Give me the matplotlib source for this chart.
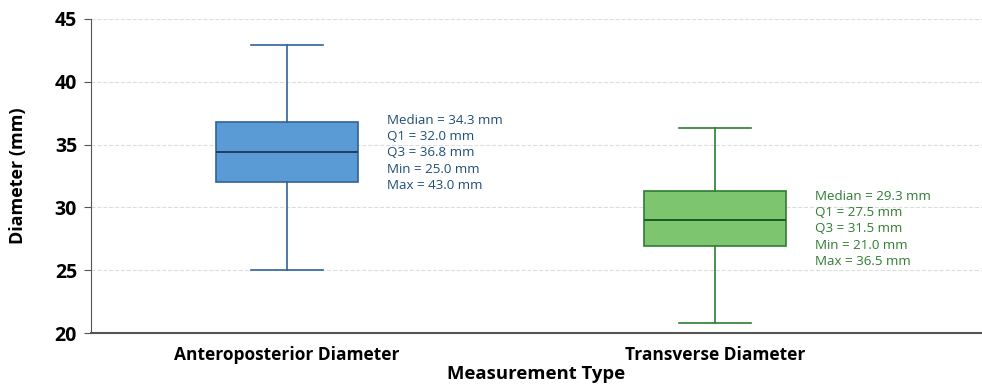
import numpy as np
import matplotlib.pyplot as plt

plt.rcParams['font.family'] = ['Open Sans', 'DejaVu Sans']

categories = ["Anteroposterior Diameter", "Transverse Diameter"]

# box geometry as drawn in the picture
drawn_min = [25.0, 20.8]
drawn_q1 = [32.0, 26.9]
drawn_med = [34.4, 29.0]
drawn_q3 = [36.8, 31.3]
drawn_max = [42.9, 36.3]

# values printed next to each box
lbl_median = [34.3, 29.3]
lbl_q1 = [32.0, 27.5]
lbl_q3 = [36.8, 31.5]
lbl_min = [25.0, 21.0]
lbl_max = [43.0, 36.5]

fill_colors = ["#5b9bd5", "#7dc56f"]
edge_colors = ["#2f6497", "#2e7d32"]
median_colors = ["#1f3f60", "#1f5a22"]
text_colors = ["#1f4e79", "#2e7d32"]
text_shift = [-0.07, -0.82]  # vertical nudge of the stats text

fig = plt.figure(figsize=(9.82, 3.87), dpi=100)
ax = fig.add_axes([0.0927, 0.1395, 0.9073, 0.8115])

for i in range(len(categories)):
    stats = [dict(whislo=drawn_min[i], q1=drawn_q1[i], med=drawn_med[i],
                  q3=drawn_q3[i], whishi=drawn_max[i], fliers=[])]
    ax.bxp(stats, positions=[i], widths=0.334, patch_artist=True,
           showfliers=False,
           boxprops=dict(facecolor=fill_colors[i], edgecolor=edge_colors[i], linewidth=1.2),
           whiskerprops=dict(color=edge_colors[i], linewidth=1.2),
           capprops=dict(color=edge_colors[i], linewidth=1.2),
           medianprops=dict(color=median_colors[i], linewidth=1.4))
    txt = (f"Median = {lbl_median[i]:.1f} mm\nQ1 = {lbl_q1[i]:.1f} mm\n"
           f"Q3 = {lbl_q3[i]:.1f} mm\nMin = {lbl_min[i]:.1f} mm\nMax = {lbl_max[i]:.1f} mm")
    ax.text(i + 0.234, (drawn_q1[i] + drawn_q3[i]) / 2 + text_shift[i], txt,
            color=text_colors[i], fontsize=9.6, va='center', ha='left',
            linespacing=1.32)

ax.set_xlim(-0.458, 1.624)
ax.set_ylim(20, 45)
ax.set_yticks(np.arange(20, 46, 5))
ax.set_xticks(range(len(categories)))
ax.set_xticklabels(categories, fontsize=12.5, fontweight='bold')
for lab in ax.get_yticklabels():
    lab.set_fontweight('bold')
    lab.set_fontsize(14)

ax.yaxis.grid(True, linestyle='--', color='#dddddd', linewidth=0.8)
ax.set_axisbelow(True)
ax.spines['top'].set_visible(False)
ax.spines['right'].set_visible(False)
ax.spines['left'].set_color('#555555')
ax.spines['bottom'].set_color('#555555')
ax.spines['bottom'].set_linewidth(1.5)
ax.tick_params(axis='x', length=0, pad=9)
ax.tick_params(axis='y', color='#555555', length=5, pad=5)

ax.set_xlabel("Measurement Type", fontsize=13.3, fontweight='bold', labelpad=1)
ax.set_ylabel("Diameter (mm)", fontsize=13, fontweight='bold', labelpad=20)

plt.savefig('out.png', dpi=100)
